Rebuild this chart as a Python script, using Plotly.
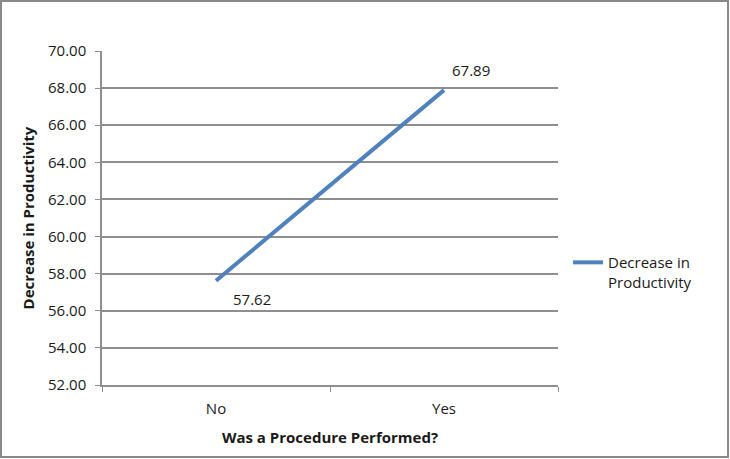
import plotly.graph_objects as go

# chart data
categories = ["No", "Yes"]
decrease = [57.62, 67.89]
label_dx = [15, 6]
label_dy = [-18, 20]
y_ticks = [52, 54, 56, 58, 60, 62, 64, 66, 68, 70]

FONT = "Open Sans"
GRID = "#8e8e8e"

fig = go.Figure()
fig.add_trace(go.Scatter(
    x=list(range(len(categories))),
    y=decrease,
    mode="lines",
    name="Decrease in<br>Productivity",
    line=dict(color="#4f81bd", width=4),
))

# data labels
for i, v in enumerate(decrease):
    fig.add_annotation(x=i, y=v, text=f"{v:.2f}", showarrow=False,
                       xanchor="left", yanchor="middle",
                       xshift=label_dx[i], yshift=label_dy[i],
                       font=dict(family=FONT, size=15, color="#1a1a1a"))

fig.update_layout(
    width=730, height=459,
    margin=dict(l=102, r=172, t=51, b=74),
    paper_bgcolor="white", plot_bgcolor="white",
    font=dict(family=FONT, size=15, color="#1a1a1a"),
    showlegend=True,
    legend=dict(x=1.022, y=0.338, xanchor="left", yanchor="middle", valign="top",
                font=dict(family=FONT, size=15), itemwidth=30,
                bgcolor="rgba(0,0,0,0)"),
    shapes=[dict(type="rect", xref="paper", yref="paper",
                 x0=-101/456, x1=1+170/456, y0=-72/334, y1=1+50/334,
                 line=dict(color="#8a8a8a", width=2))],
)

fig.update_xaxes(
    range=[-0.5, 1.5],
    tickvals=list(range(len(categories))), ticktext=categories,
    ticks="", showgrid=False, zeroline=False,
    showline=True, linecolor=GRID, linewidth=1.5,
    minor=dict(tick0=-0.5, dtick=1, ticks="outside", ticklen=5, tickcolor=GRID, showgrid=False),
    ticklabelstandoff=9,
    title=dict(text="<b>Was a Procedure Performed?</b>", font=dict(family=FONT, size=15), standoff=16),
    tickfont=dict(family=FONT, size=15),
)
fig.update_yaxes(
    range=[52, 70],
    tickvals=y_ticks, ticktext=[f"{v:.2f}" for v in y_ticks],
    ticks="outside", ticklen=5, tickcolor=GRID,
    showgrid=True, gridcolor=GRID, gridwidth=1.5,
    zeroline=False, showline=True, linecolor=GRID, linewidth=1.5,
    ticklabelstandoff=6,
    title=dict(text="<b>Decrease in Productivity</b>", font=dict(family=FONT, size=15), standoff=10),
    tickfont=dict(family=FONT, size=15),
)

fig.write_html("out.html", config={"displayModeBar": False},
               post_script="document.body.style.margin='0px';")
